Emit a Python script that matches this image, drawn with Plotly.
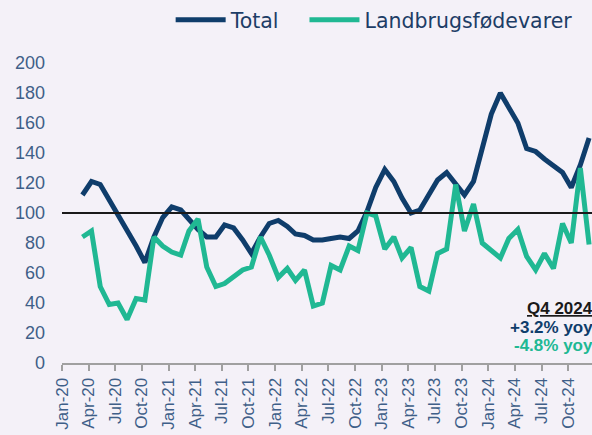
import plotly.graph_objects as go
import pandas as pd

months = pd.date_range("2020-03-01", "2024-12-01", freq="MS") + pd.Timedelta(days=10)

total = [112, 121, 119, 109, 99, 88, 78, 67, 84, 97,
         104, 102, 96, 89, 84, 84, 92, 90, 82, 73, 84, 93,
         95, 91, 86, 85, 82, 82, 83, 84, 83, 88, 101, 117,
         129, 121, 110, 100, 102, 112, 122, 127, 120, 112, 121, 143,
         166, 180, 171, 160, 143, 141, 136, 131, 127, 117, 132, 150]

landbrug = [84, 88, 51, 39, 40, 29, 43, 42, 84, 78,
            74, 72, 88, 96, 64, 51, 53, 58, 62, 64, 84, 72,
            57, 63, 55, 62, 38, 40, 65, 62, 78, 75, 100, 98,
            76, 84, 70, 77, 51, 48, 73, 76, 119, 88, 106, 80,
            75, 70, 83, 89, 71, 62, 73, 63, 93, 80, 130, 79]

series_names = ["Total", "Landbrugsfødevarer"]
y_ticks = list(range(0, 201, 20))
ref_level = 100
notes = ["<u>Q4 2024</u>", "+3.2% yoy", "-4.8% yoy"]

NAVY = "#0f3d6b"
GREEN = "#20b893"
BG = "#f4f1f8"
TICK_COLOR = "#3f5f88"

fig = go.Figure()
fig.add_trace(go.Scatter(x=months, y=total, mode="lines", name=series_names[0],
                         line=dict(color=NAVY, width=5), legend="legend"))
fig.add_trace(go.Scatter(x=months, y=landbrug, mode="lines", name=series_names[1],
                         line=dict(color=GREEN, width=5), legend="legend2"))

fig.add_shape(type="line", xref="paper", yref="y", x0=0, x1=1, y0=ref_level, y1=ref_level,
              line=dict(color="#1a1a1a", width=2), layer="above")

note_colors = ["#1a1a1a", NAVY, GREEN]
note_y = [36.5, 24, 11.5]
for t, c, yy in zip(notes, note_colors, note_y):
    fig.add_annotation(x=1, xref="paper", y=yy, yref="y", text="<b>" + t + "</b>",
                       showarrow=False, xanchor="right", yanchor="middle", xshift=3,
                       font=dict(family="Liberation Sans, Arial", size=17, color=c))

legend_style = dict(orientation="h", xanchor="left", y=1.0, yref="container",
                    yanchor="top", font=dict(family="DejaVu Sans", size=20.5, color="#1d3d66"),
                    bgcolor="rgba(0,0,0,0)", itemwidth=50)

fig.update_layout(
    width=592, height=435,
    margin=dict(l=62, r=0, t=63, b=72, autoexpand=False),
    paper_bgcolor=BG, plot_bgcolor=BG,
    showlegend=True,
    legend=dict(x=0.205, **legend_style),
    legend2=dict(x=0.4575, **legend_style),
    xaxis=dict(type="date", range=["2020-01-01", "2024-12-21"], automargin=False,
               tick0="2020-01-01", dtick="M3", tickformat="%b-%y", tickangle=-90,
               showgrid=False, zeroline=False,
               showline=True, linecolor="#a0a0a0", linewidth=2,
               ticks="outside", ticklen=6, tickwidth=2, tickcolor="#a0a0a0",
               tickfont=dict(family="Liberation Sans, Arial", size=17, color=TICK_COLOR)),
    yaxis=dict(range=[0, 200], tickvals=y_ticks, showgrid=False, zeroline=False,
               showline=False, ticks="", ticklabelstandoff=16, automargin=False,
               tickfont=dict(family="Liberation Sans, Arial", size=18, color=TICK_COLOR)),
)

fig.write_html("out.html", config={"displayModeBar": False},
               post_script="document.body.style.margin='0';document.body.style.background='%s';" % BG)
